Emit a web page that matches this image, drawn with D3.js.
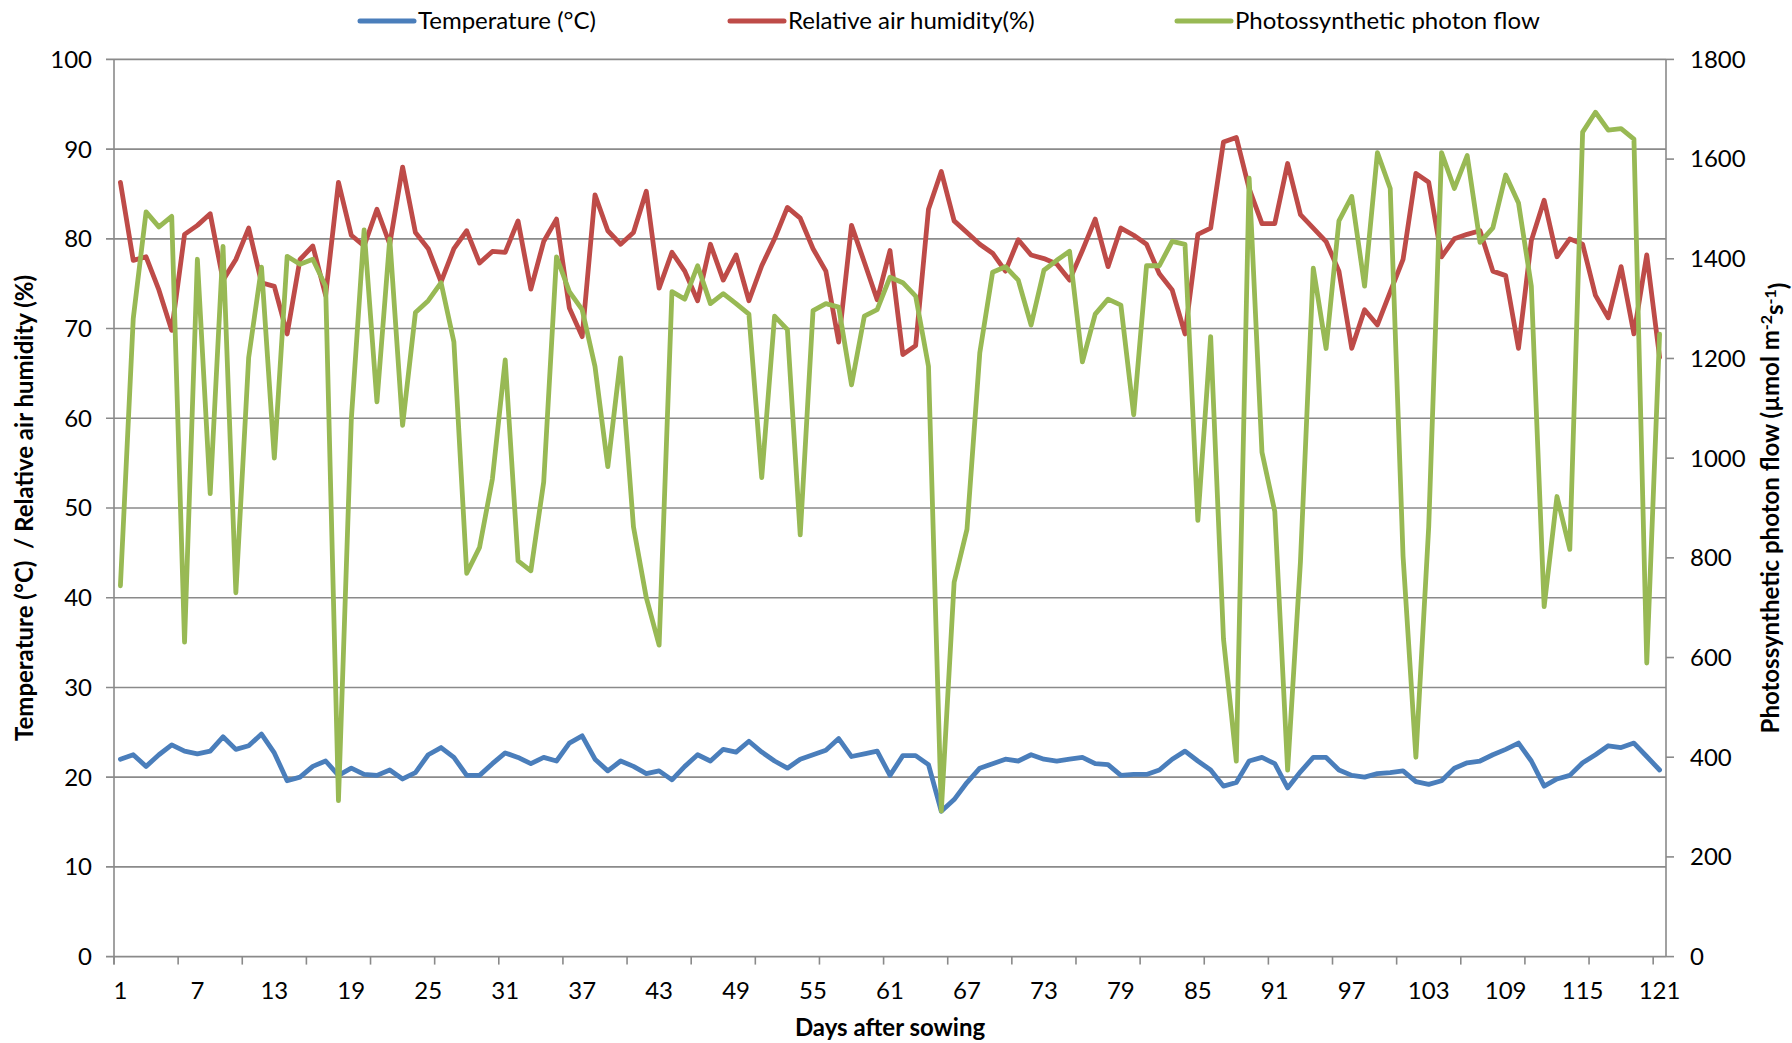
<head>
    <script src="https://d3js.org/d3.v7.min.js"></script>
    <style>
        body { margin: 0; background: #fff; }
        text { font-family: Lato, "Open Sans", sans-serif; fill: #000; }
    </style>
</head>

<body>
    <div id="app"></div>
</body>

<script>
    // days after sowing 1..121
    const days = d3.range(1, 122);
    const xTickLabels = [1, 7, 13, 19, 25, 31, 37, 43, 49, 55, 61, 67, 73, 79, 85, 91, 97, 103, 109, 115, 121];
    const leftTicks = [0, 10, 20, 30, 40, 50, 60, 70, 80, 90, 100];
    const rightTicks = [0, 200, 400, 600, 800, 1000, 1200, 1400, 1600, 1800];

    // Temperature (°C)
    const temperature = [
        22.0, 22.5, 21.2, 22.5, 23.6, 22.9, 22.6, 22.9, 24.5, 23.1,
        23.5, 24.8, 22.7, 19.6, 20.0, 21.2, 21.8, 20.2, 21.0, 20.3,
        20.2, 20.8, 19.8, 20.5, 22.5, 23.3, 22.2, 20.2, 20.2, 21.5,
        22.7, 22.2, 21.5, 22.2, 21.8, 23.8, 24.6, 22.0, 20.7, 21.8,
        21.2, 20.4, 20.7, 19.7, 21.2, 22.5, 21.8, 23.1, 22.8, 24.0,
        22.8, 21.8, 21.0, 22.0, 22.5, 23.0, 24.3, 22.3, 22.6, 22.9,
        20.2, 22.4, 22.4, 21.4, 16.2, 17.5, 19.4, 21.0, 21.5, 22.0,
        21.8, 22.5, 22.0, 21.8, 22.0, 22.2, 21.5, 21.4, 20.2, 20.3,
        20.3, 20.8, 22.0, 22.9, 21.8, 20.8, 19.0, 19.4, 21.8, 22.2,
        21.5, 18.8, 20.6, 22.2, 22.2, 20.8, 20.2, 20.0, 20.4, 20.5,
        20.7, 19.5, 19.2, 19.6, 21.0, 21.6, 21.8, 22.5, 23.1, 23.8,
        21.8, 19.0, 19.8, 20.2, 21.6, 22.5, 23.5, 23.3, 23.8, 22.3,
        20.8
    ];

    // Relative air humidity (%)
    const humidity = [
        86.3, 77.6, 78.0, 74.3, 69.8, 80.5, 81.5, 82.8, 75.4, 77.7,
        81.2, 75.1, 74.7, 69.4, 77.7, 79.2, 73.7, 86.3, 80.4, 79.2,
        83.3, 79.4, 88.0, 80.7, 78.9, 75.2, 78.9, 80.9, 77.3, 78.6,
        78.5, 82.0, 74.4, 79.7, 82.2, 72.3, 69.1, 84.9, 80.9, 79.4,
        80.7, 85.3, 74.5, 78.5, 76.4, 73.1, 79.4, 75.4, 78.2, 73.1,
        77.0, 80.0, 83.5, 82.3, 78.9, 76.4, 68.5, 81.5, 77.4, 73.2,
        78.7, 67.1, 68.1, 83.3, 87.5, 82.0, 80.7, 79.4, 78.4, 76.4,
        79.9, 78.2, 77.8, 77.2, 75.4, 78.7, 82.2, 76.9, 81.2, 80.4,
        79.4, 76.1, 74.3, 69.4, 80.5, 81.2, 90.8, 91.3, 85.6, 81.7,
        81.7, 88.4, 82.7, 81.2, 79.7, 76.4, 67.8, 72.1, 70.4, 74.1,
        77.7, 87.3, 86.3, 78.0, 80.0, 80.5, 80.9, 76.4, 75.9, 67.8,
        79.8, 84.3, 78.0, 80.0, 79.4, 73.7, 71.2, 76.9, 69.4, 78.2,
        66.8
    ];

    // Photosynthetic photon flow (µmol m-2 s-1), right axis
    const photonFlow = [
        744, 1280, 1494, 1464, 1485, 631, 1399, 929, 1425, 730,
        1202, 1383, 1000, 1405, 1389, 1399, 1345, 313, 1077, 1458,
        1113, 1440, 1066, 1292, 1316, 1352, 1233, 769, 821, 958,
        1197, 794, 774, 952, 1404, 1334, 1298, 1184, 983, 1201,
        862, 720, 625, 1334, 1319, 1386, 1310, 1330, 1310, 1289,
        961, 1285, 1258, 846, 1296, 1310, 1303, 1147, 1285, 1298,
        1363, 1352, 1325, 1184, 292, 751, 857, 1211, 1373, 1384,
        1357, 1267, 1377, 1397, 1415, 1193, 1289, 1319, 1307, 1087,
        1386, 1386, 1435, 1429, 875, 1244, 637, 392, 1562, 1012,
        893, 374, 792, 1381, 1220, 1476, 1525, 1345, 1613, 1541,
        803, 400, 862, 1613, 1541, 1607, 1433, 1462, 1568, 1512,
        1345, 702, 923, 817, 1654, 1694, 1658, 1661, 1640, 589,
        1249
    ];

    const W = 1792, H = 1043;
    const plot = { left: 114, right: 1666, top: 59.4, bottom: 956.6 };
    const gridColor = "#8a8a8a";
    const fs = "24px";

    const svg = d3.select("#app")
        .append("svg")
        .attr("width", W)
        .attr("height", H);

    // scales: one band per day, two value axes
    const x = d3.scaleBand().domain(days).range([plot.left, plot.right]).padding(0);
    const cx = d => x(d) + x.bandwidth() / 2;
    const yLeft = d3.scaleLinear().domain([0, 100]).range([plot.bottom, plot.top]);
    const yRight = d3.scaleLinear().domain([0, 1800]).range([plot.bottom, plot.top]);

    // horizontal gridlines
    svg.append("g").selectAll("line").data(leftTicks).enter()
        .append("line")
        .attr("x1", plot.left - 8).attr("x2", plot.right)
        .attr("y1", d => yLeft(d)).attr("y2", d => yLeft(d))
        .attr("stroke", gridColor).attr("stroke-width", 1.6);

    // left + right axis lines
    svg.append("line")
        .attr("x1", plot.left).attr("x2", plot.left)
        .attr("y1", plot.top).attr("y2", plot.bottom + 8)
        .attr("stroke", gridColor).attr("stroke-width", 1.6);
    svg.append("line")
        .attr("x1", plot.right).attr("x2", plot.right)
        .attr("y1", plot.top).attr("y2", plot.bottom)
        .attr("stroke", gridColor).attr("stroke-width", 1.6);

    // left tick labels
    svg.append("g").selectAll("text").data(leftTicks).enter()
        .append("text")
        .attr("x", 92).attr("y", d => yLeft(d))
        .attr("dy", "0.35em")
        .attr("text-anchor", "end")
        .style("font-size", fs)
        .text(d => d);

    // right ticks and labels
    svg.append("g").selectAll("line").data(rightTicks).enter()
        .append("line")
        .attr("x1", plot.right).attr("x2", plot.right + 8)
        .attr("y1", d => yRight(d)).attr("y2", d => yRight(d))
        .attr("stroke", gridColor).attr("stroke-width", 1.6);
    svg.append("g").selectAll("text").data(rightTicks).enter()
        .append("text")
        .attr("x", 1690).attr("y", d => yRight(d))
        .attr("dy", "0.35em")
        .style("font-size", fs)
        .text(d => d);

    // x ticks every 5 days (on band edges), labels every 6 days
    const xTickDays = days.filter(d => (d - 1) % 5 === 0);
    svg.append("g").selectAll("line").data(xTickDays).enter()
        .append("line")
        .attr("x1", d => x(d)).attr("x2", d => x(d))
        .attr("y1", plot.bottom).attr("y2", plot.bottom + 8)
        .attr("stroke", gridColor).attr("stroke-width", 1.6);
    svg.append("g").selectAll("text").data(xTickLabels).enter()
        .append("text")
        .attr("x", d => cx(d)).attr("y", 991)
        .attr("dy", "0.35em")
        .attr("text-anchor", "middle")
        .style("font-size", fs)
        .text(d => d);

    // axis titles
    svg.append("text")
        .attr("x", 890).attr("y", 1028)
        .attr("dy", "0.35em")
        .attr("text-anchor", "middle")
        .style("font-size", fs).style("font-weight", "bold")
        .text("Days after sowing");

    svg.append("text")
        .attr("transform", `translate(25,${(plot.top + plot.bottom) / 2}) rotate(-90)`)
        .attr("dy", "0.35em")
        .attr("text-anchor", "middle")
        .style("font-size", fs).style("font-weight", "bold")
        .style("white-space", "pre")
        .text("Temperature (°C)  / Relative air humidity (%)");

    const rt = svg.append("text")
        .attr("transform", `translate(1771,${(plot.top + plot.bottom) / 2}) rotate(-90)`)
        .attr("dy", "0.35em")
        .attr("text-anchor", "middle")
        .style("font-size", fs).style("font-weight", "bold");
    rt.append("tspan").text("Photossynthetic photon flow (µmol m");
    rt.append("tspan").attr("dy", "-0.45em").style("font-size", "16px").text("-2");
    rt.append("tspan").attr("dy", "0.45em").text("s");
    rt.append("tspan").attr("dy", "-0.45em").style("font-size", "16px").text("-1");
    rt.append("tspan").attr("dy", "0.45em").text(")");

    // series, drawn in legend order (later series on top)
    const series = [
        { name: "Temperature (°C)", values: temperature, y: yLeft, color: "#4a7ebb", lx: 360 },
        { name: "Relative air humidity(%)", values: humidity, y: yLeft, color: "#be4b48", lx: 730 },
        { name: "Photossynthetic photon flow", values: photonFlow, y: yRight, color: "#98b954", lx: 1177 }
    ];

    const lineGen = s => d3.line()
        .x((v, i) => cx(days[i]))
        .y(v => s.y(v))(s.values);

    series.forEach(s => {
        svg.append("path")
            .attr("d", lineGen(s))
            .attr("fill", "none")
            .attr("stroke", s.color)
            .attr("stroke-width", 4.8)
            .attr("stroke-linejoin", "round")
            .attr("stroke-linecap", "round");
    });

    // legend
    series.forEach(s => {
        svg.append("line")
            .attr("x1", s.lx).attr("x2", s.lx + 54)
            .attr("y1", 21).attr("y2", 21)
            .attr("stroke", s.color).attr("stroke-width", 5)
            .attr("stroke-linecap", "round");
        svg.append("text")
            .attr("x", s.lx + 58).attr("y", 21)
            .attr("dy", "0.35em")
            .style("font-size", fs)
            .text(s.name);
    });
</script>
